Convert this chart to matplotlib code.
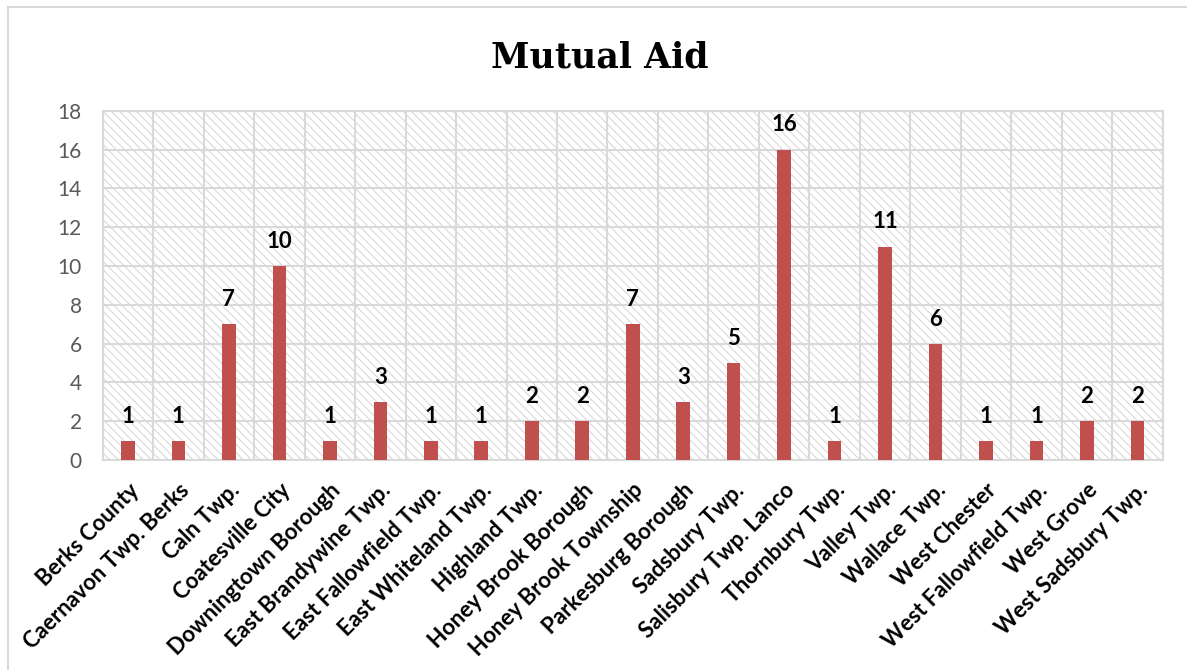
import matplotlib
matplotlib.use("Agg")
import matplotlib.pyplot as plt
from matplotlib.patches import Rectangle

categories = ["Berks County", "Caernavon Twp. Berks", "Caln Twp.", "Coatesville City",
              "Downingtown Borough", "East Brandywine Twp.", "East Fallowfield Twp.",
              "East Whiteland Twp.", "Highland Twp.", "Honey Brook Borough",
              "Honey Brook Township", "Parkesburg Borough", "Sadsbury Twp.",
              "Salisbury Twp. Lanco", "Thornbury Twp.", "Valley Twp.", "Wallace Twp.",
              "West Chester", "West Fallowfield Twp.", "West Grove", "West Sadsbury Twp."]
values = [1, 1, 7, 10, 1, 3, 1, 1, 2, 2, 7, 3, 5, 16, 1, 11, 6, 1, 1, 2, 2]
yticks = [0, 2, 4, 6, 8, 10, 12, 14, 16, 18]
title = "Mutual Aid"

plt.rcParams['font.family'] = ['Lato', 'DejaVu Sans']
plt.rcParams['hatch.linewidth'] = 0.8
plt.rcParams['hatch.color'] = '#D9D9D9'

fig = plt.figure(figsize=(11.87, 6.70), dpi=100)
ax = fig.add_axes([102.7/1187, 1-460/670, (1162.7-102.7)/1187, (460-110.7)/670])

grid_c = '#D9D9D9'
ax.add_patch(Rectangle((0, 0), 1, 1, transform=ax.transAxes, facecolor='white',
                       edgecolor=grid_c, hatch='\\\\\\\\', lw=0, zorder=0))

x = list(range(len(categories)))
bars = ax.bar(x, values, width=0.27, color='#C0504D', zorder=3)
for xi, v in zip(x, values):
    ax.annotate(str(v), (xi, v), xytext=(0, 13), textcoords='offset points',
                ha='center', va='baseline', fontsize=16, fontweight='bold', color='black',
                zorder=4)

ax.set_xlim(-0.5, len(categories) - 0.5)
ax.set_ylim(0, 18)
ax.set_yticks(yticks)
ax.set_xticks(x)
ax.set_xticklabels(categories, rotation=45, ha='right', rotation_mode='anchor',
                   fontsize=16, fontweight='bold', color='black')
ax.set_xticks([i + 0.5 for i in range(-1, len(categories))], minor=True)
ax.tick_params(axis='y', length=0, pad=15, labelsize=15, labelcolor='#595959')
ax.tick_params(axis='x', which='both', length=0, pad=14)
ax.grid(axis='y', which='major', color=grid_c, lw=1.5, zorder=1)
ax.grid(axis='x', which='minor', color=grid_c, lw=1.5, zorder=1)
ax.grid(axis='x', which='major', visible=False)
ax.set_axisbelow(True)
for s in ax.spines.values():
    s.set_color(grid_c)
    s.set_linewidth(1.5)
    s.set_zorder(1)

fig.text(0.505, 1 - 67/670, title, ha='center', va='baseline', fontsize=25,
         fontweight='bold', family='DejaVu Serif', color='black')

fig.patches.append(Rectangle((8/1187, -0.01), 1.0, 1 - 7/670 + 0.01, transform=fig.transFigure,
                             fill=False, edgecolor=grid_c, lw=1.5))

fig.savefig("out.png", dpi=100)
